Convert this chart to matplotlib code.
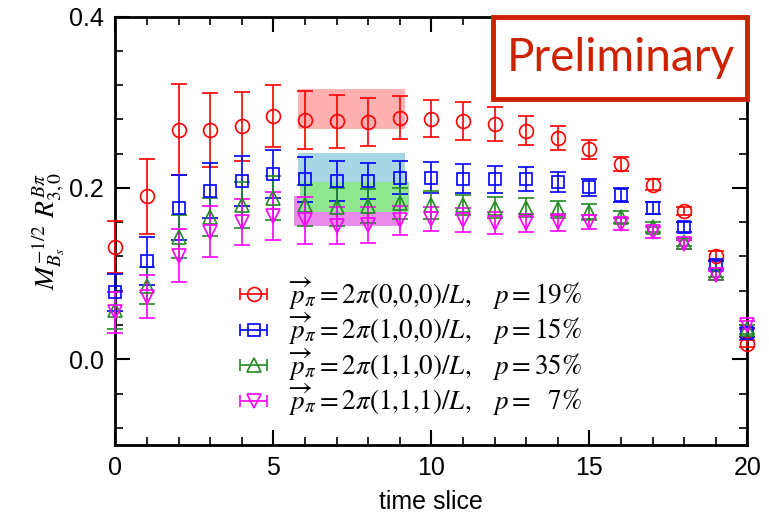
import matplotlib
matplotlib.use("Agg")
import matplotlib.pyplot as plt
import matplotlib.ticker as ticker
from matplotlib.patches import Rectangle
import numpy as np

# ---------------------------------------------------------------------------
# Data
# ---------------------------------------------------------------------------
t = np.arange(0, 21)

red_val = [0.131, 0.190, 0.268, 0.268, 0.272, 0.284, 0.279, 0.278, 0.277, 0.282,
           0.281, 0.278, 0.275, 0.267, 0.258, 0.245, 0.228, 0.204, 0.173, 0.121, 0.018]
red_err = [0.030, 0.044, 0.053, 0.043, 0.040, 0.036, 0.034, 0.031, 0.028, 0.025,
           0.022, 0.022, 0.020, 0.017, 0.014, 0.011, 0.008, 0.006, 0.005, 0.005, 0.004]

blue_val = [0.078, 0.115, 0.177, 0.197, 0.208, 0.216, 0.210, 0.208, 0.208, 0.212,
            0.212, 0.211, 0.210, 0.210, 0.207, 0.201, 0.192, 0.176, 0.154, 0.110, 0.031]
blue_err = [0.022, 0.028, 0.038, 0.032, 0.029, 0.028, 0.026, 0.023, 0.021, 0.019,
            0.018, 0.017, 0.016, 0.014, 0.012, 0.010, 0.008, 0.007, 0.006, 0.005, 0.005]

green_val = [0.057, 0.086, 0.143, 0.166, 0.180, 0.188, 0.180, 0.178, 0.179, 0.182,
             0.180, 0.180, 0.177, 0.177, 0.175, 0.172, 0.166, 0.154, 0.137, 0.101, 0.035]
green_err = [0.022, 0.022, 0.025, 0.022, 0.027, 0.026, 0.024, 0.022, 0.020, 0.018,
             0.016, 0.012, 0.012, 0.011, 0.010, 0.009, 0.007, 0.006, 0.005, 0.005, 0.005]

mag_val = [0.055, 0.073, 0.121, 0.149, 0.160, 0.167, 0.162, 0.156, 0.157, 0.162,
           0.164, 0.163, 0.159, 0.159, 0.160, 0.160, 0.158, 0.148, 0.134, 0.098, 0.040]
mag_err = [0.024, 0.025, 0.031, 0.030, 0.027, 0.028, 0.027, 0.022, 0.021, 0.017,
           0.014, 0.014, 0.013, 0.011, 0.010, 0.008, 0.007, 0.006, 0.005, 0.005, 0.005]

# fit bands: (t_start, t_end, low, high)
red_band = (5.78, 9.18, 0.269, 0.315)
blue_band = (5.78, 9.18, 0.203, 0.241)
green_band = (5.85, 9.30, 0.1715, 0.2074)
mag_band = (5.65, 9.00, 0.156, 0.191)

labels = [
    r"$\overrightarrow{p}_{\pi} = 2\pi(0{,}0{,}0)/L,\ \ \ p = 19\%$",
    r"$\overrightarrow{p}_{\pi} = 2\pi(1{,}0{,}0)/L,\ \ \ p = 15\%$",
    r"$\overrightarrow{p}_{\pi} = 2\pi(1{,}1{,}0)/L,\ \ \ p = 35\%$",
    r"$\overrightarrow{p}_{\pi} = 2\pi(1{,}1{,}1)/L,\ \ \ p = \ \ 7\%$",
]

# ---------------------------------------------------------------------------
# Style
# ---------------------------------------------------------------------------
plt.rcParams.update({
    "font.family": ["Liberation Sans Narrow", "Liberation Sans", "DejaVu Sans"],
    "mathtext.fontset": "stix",
    "axes.linewidth": 2.0,
    "xtick.direction": "in",
    "ytick.direction": "in",
    "xtick.top": True,
    "ytick.right": True,
    "xtick.major.size": 11,
    "ytick.major.size": 11,
    "xtick.minor.size": 6,
    "ytick.minor.size": 6,
    "xtick.major.width": 1.5,
    "ytick.major.width": 1.5,
    "xtick.minor.width": 1.2,
    "ytick.minor.width": 1.2,
})

C_RED = "#ff0000"
C_BLUE = "#0000ff"
C_GREEN = "#228b22"
C_MAG = "#ff00ff"
C_STAMP = "#cc2200"

SERIES = [
    (red_val, red_err, C_RED, "o", 10),
    (blue_val, blue_err, C_BLUE, "s", 8.5),
    (green_val, green_err, C_GREEN, "^", 9.5),
    (mag_val, mag_err, C_MAG, "v", 9.5),
]

fig = plt.figure(figsize=(7.69, 5.18), dpi=100)
ax = fig.add_axes([0.150, 0.141, 0.822, 0.827])

# fit bands
for (x0, x1, lo, hi), col in [(red_band, "#ffb0b0"), (blue_band, "#a9d6e5"),
                              (mag_band, "#e98ce9"), (green_band, "#8fe88f")]:
    ax.fill_between([x0, x1], lo, hi, color=col, linewidth=0, zorder=1)

handles = []
for (val, err, col, mk, ms), lab in zip(SERIES, labels):
    ax.errorbar(t, val, yerr=err, fmt=mk, color=col, mfc="none", mec=col,
                ms=ms, mew=1.2, elinewidth=1.2, capsize=6, capthick=1.2,
                zorder=3, clip_on=False)
    # proxy handle with horizontal bar for the legend
    h = ax.errorbar([np.nan], [np.nan], xerr=[1], fmt=mk, color=col, mfc="none",
                    mec=col, ms=ms, mew=1.2, elinewidth=1.2, capsize=4,
                    capthick=1.2)
    handles.append(h)

leg = ax.legend(handles, labels, loc="upper left", bbox_to_anchor=(0.17, 0.42),
                frameon=False, fontsize=19.5, handlelength=1.5, handletextpad=0.5,
                labelspacing=-0.02, borderaxespad=0)

ax.set_xlim(0, 20)
ax.set_ylim(-0.1, 0.4)
ax.xaxis.set_major_locator(ticker.MultipleLocator(5))
ax.xaxis.set_minor_locator(ticker.MultipleLocator(1))
ax.yaxis.set_major_locator(ticker.MultipleLocator(0.2))
ax.yaxis.set_minor_locator(ticker.MultipleLocator(0.04))
ax.yaxis.set_major_formatter(ticker.FormatStrFormatter("%.1f"))
ax.tick_params(labelsize=18, pad=8)

ax.set_xlabel("time slice", fontsize=18, labelpad=7)
ax.set_ylabel(r"$M_{B_s}^{-1/2}\ R_{3,0}^{B\pi}$", fontsize=20, labelpad=2)

# "Preliminary" stamp, box flush with the top-right corner
ax.add_patch(Rectangle((0.598, 0.807), 0.402, 0.193, transform=ax.transAxes,
                       fc="white", ec=C_STAMP, lw=3.5, zorder=5, clip_on=False))
ax.text(0.80, 0.903, "Preliminary", transform=ax.transAxes, ha="center",
        va="center", fontsize=33, color=C_STAMP, family="Lato", zorder=6)

fig.savefig("out.png", dpi=100)
